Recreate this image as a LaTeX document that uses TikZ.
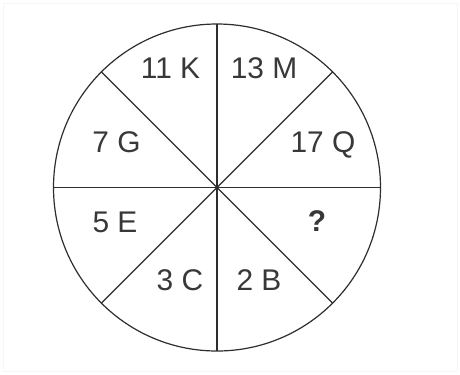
\documentclass[tikz,border=0pt]{standalone}
\usepackage{fontspec}
\setmainfont{Liberation Sans}
\usepackage{tikz}
\usetikzlibrary{calc}
\definecolor{trazo}{HTML}{2E2E2E}
\definecolor{texto}{HTML}{383838}
\definecolor{marco}{HTML}{F6F6F6}

\begin{document}
\begin{tikzpicture}[x=1bp, y=-1bp,
    etiq/.style={text=texto, font=\fontsize{30}{32}\selectfont, inner sep=0pt,
                 text height=0.716em, text depth=0pt}]
    % marco y fondo
    \fill[white] (0,0) rectangle (460,374);
    \draw[marco, line width=0.8bp] (3,3) rectangle (457,371);
    % el círculo y sus ocho sectores
    \coordinate (centro) at (217,187.5);
    \draw[trazo, line width=1.2bp] (centro) circle[radius=163.5bp];
    \foreach \a in {0,45,90,135}
      \draw[trazo, line width=1.2bp] ($(centro)+(\a:163.5bp)$) -- ($(centro)+(\a+180:163.5bp)$);
    % números y letras
    \node[etiq] (k) at (170.5,74.5) {11 K};
    \node[etiq] (m) at (264,74.5) {13 M};
    \node[etiq] (g) at (116.5,149) {7 G};
    \node[etiq] (q) at (323,149) {17 Q};
    \node[etiq] (e) at (115,228.5) {5 E};
    \node[etiq, font=\fontsize{30}{32}\selectfont\bfseries] (x) at (317,227.5) {?};
    \node[etiq] (c) at (180,287) {3 C};
    \node[etiq] (b) at (259,287) {2 B};
\end{tikzpicture}
\end{document}
